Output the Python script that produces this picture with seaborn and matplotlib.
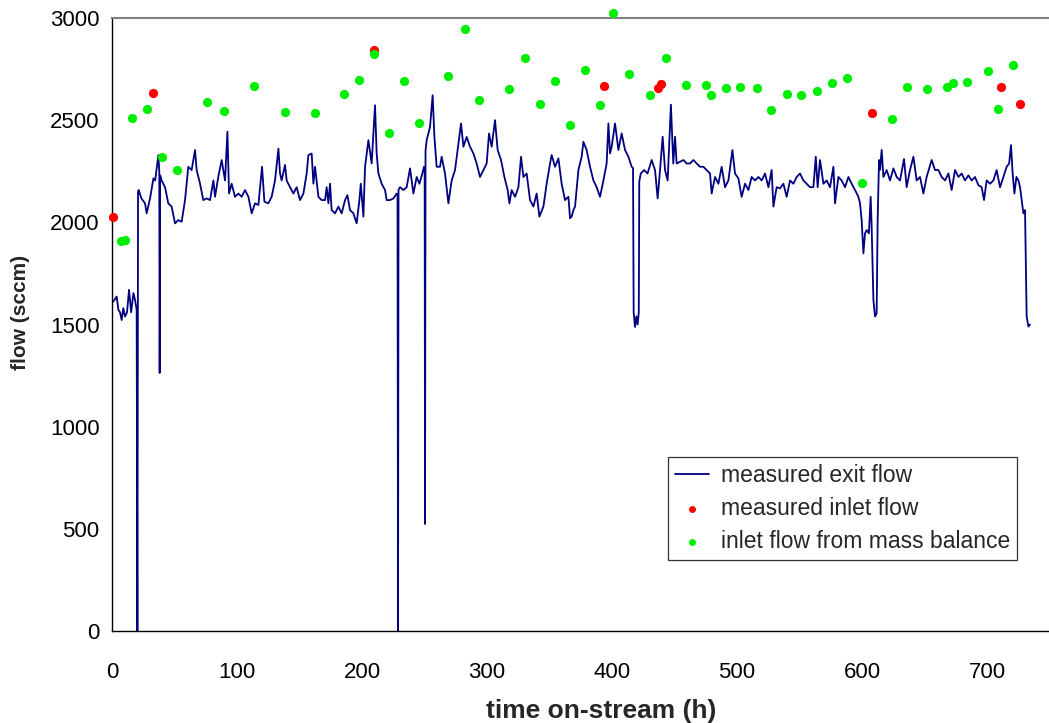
import numpy as np
import pandas as pd
import matplotlib
matplotlib.use("Agg")
import matplotlib.pyplot as plt
import seaborn as sns

# measured exit flow (sccm) vs time on-stream (h)
exit_time = [
    0.5, 1.9, 3.7, 5.1, 6.4, 7.7, 9.0, 10.4, 12.0, 13.6, 15.3, 17.1, 18.4, 19.7,
    20.3, 20.8, 21.3, 23.5, 26.4, 27.7, 30.4, 33.1, 34.5, 37.1, 37.8, 38.1, 38.5,
    39.7, 42.4, 45.0, 47.7, 50.4, 53.0, 55.7, 58.4, 61.0, 63.7, 66.4, 67.7, 70.4,
    73.0, 75.7, 78.4, 81.1, 82.4, 85.0, 87.7, 90.4, 92.3, 93.6, 95.7, 98.4, 101.1,
    103.7, 106.4, 109.1, 111.7, 114.4, 117.1, 120.0, 121.9,
    125.0, 127.7, 130.4, 133.1, 134.4, 135.7, 138.4, 139.7, 142.4, 145.1, 147.7,
    150.4, 153.1, 155.7, 157.1, 159.7, 161.1, 162.4, 165.1, 167.7, 170.4, 171.7,
    173.1, 174.4, 175.7, 178.4, 181.1, 183.7, 186.4, 188.3, 190.4, 193.1, 195.7,
    197.9, 199.0, 201.1, 202.4, 205.1, 207.7, 210.4, 211.7, 213.1, 215.7, 218.4,
    219.7, 222.4, 225.1, 227.7, 228.4, 228.8, 229.2, 230.4, 233.1, 235.7, 238.4,
    241.1, 243.7, 245.9, 247.5, 249.6, 250.1, 250.4, 250.8, 251.7, 254.4, 256.5,
    257.9, 259.7, 262.4, 263.7, 266.4, 269.1, 271.7, 274.4, 277.1, 279.2, 281.1,
    283.7, 286.4, 289.1, 291.7, 294.4, 297.1, 299.7, 301.6, 303.7, 306.4, 308.5,
    311.2, 313.9, 316.5, 317.9, 319.7, 322.4, 325.1, 327.2, 329.1, 331.7, 334.4,
    337.1, 339.7, 341.9, 345.1, 347.7, 350.4, 351.7, 354.4, 357.1, 359.7, 362.4,
    365.1, 366.4, 367.7, 369.1, 370.4, 373.1, 375.7, 377.1, 379.7, 382.4, 385.1,
    387.7, 390.4, 393.1, 395.7, 397.1, 398.4, 399.7, 402.4, 405.1, 407.7, 410.4,
    413.1, 415.7, 416.8, 417.3, 418.4, 419.5, 420.5, 421.4, 421.8, 423.0, 425.7,
    428.4, 431.7, 434.4, 436.5, 438.4, 440.5, 442.4, 444.5, 447.1, 449.0, 450.4,
    451.7, 454.4, 457.1, 459.7, 462.4, 465.1, 467.7, 470.4, 473.1, 475.7, 478.4,
    479.7, 482.4, 485.1, 487.7, 490.4, 493.1, 496.3, 498.4, 501.1, 503.7, 506.4,
    509.1, 511.7, 514.4, 517.1, 519.7, 522.4, 525.1, 527.7, 529.1, 531.7, 534.4,
    537.1, 539.7, 542.4, 545.1, 547.7, 550.4, 553.1, 555.7, 558.4, 561.1, 563.0,
    564.5, 566.4, 569.1, 571.7, 574.4, 577.1, 578.4, 581.1, 583.7, 586.4, 589.1,
    591.7, 594.4, 597.1, 598.4, 599.7, 601.1, 602.4, 603.7, 605.5, 606.9, 607.7,
    609.1, 610.4, 611.7, 612.5, 613.6, 614.4, 615.7, 617.1, 619.7, 622.4, 625.1,
    627.7, 630.4, 633.6, 635.7, 638.4, 641.1, 643.7, 646.4, 649.1, 651.7, 655.7,
    658.4, 661.1, 663.7, 666.4, 669.1, 671.7, 674.4, 677.1, 679.7, 682.4, 685.1,
    687.7, 690.4, 693.1, 695.7, 697.6, 699.7, 702.4, 705.1, 707.7, 710.4, 713.1,
    715.7, 717.7, 719.2, 720.5, 721.9, 723.5, 725.1, 726.4, 727.7, 729.1, 730.4,
    731.7, 733.1, 734.4,
]
exit_flow = [
    1610, 1620, 1637, 1572, 1560, 1522, 1580, 1539, 1560, 1670, 1560, 1654, 1620, 1572,
    0, 2150, 2158, 2117, 2093, 2044, 2117, 2215, 2205, 2329, 2250, 1263, 2230,
    2205, 2172, 2093, 2077, 1995, 2011, 2003, 2109, 2272, 2256, 2354, 2256, 2189,
    2109, 2117, 2109, 2205, 2125, 2222, 2305, 2205, 2444, 2141, 2189, 2125, 2141,
    2125, 2158, 2125, 2044, 2093, 2085, 2272, 2101,
    2093, 2125, 2205, 2361, 2239, 2205, 2281, 2205, 2172, 2141, 2172,
    2109, 2141, 2239, 2329, 2337, 2189, 2272, 2125, 2109, 2109, 2172,
    2093, 2189, 2060, 2044, 2077, 2044, 2109, 2133, 2060, 2044, 1995,
    2109, 2189, 2028, 2272, 2402, 2288, 2573, 2337, 2239, 2189, 2158,
    2109, 2109, 2117, 2141, 2130, 0, 2160, 2172, 2158, 2172, 2264,
    2141, 2222, 2189, 2222, 2272, 2250, 524, 2350, 2402, 2467, 2622,
    2418, 2272, 2272, 2321, 2239, 2093, 2205, 2256, 2386, 2484, 2370,
    2418, 2370, 2337, 2288, 2222, 2256, 2288, 2435, 2370, 2500, 2354,
    2305, 2222, 2158, 2093, 2158, 2125, 2172, 2321, 2222, 2239, 2109,
    2077, 2141, 2028, 2077, 2189, 2288, 2329, 2272, 2313, 2189, 2109,
    2125, 2020, 2028, 2060, 2077, 2256, 2321, 2394, 2354, 2272, 2205,
    2172, 2125, 2205, 2288, 2484, 2337, 2370, 2484, 2354, 2435, 2354,
    2321, 2272, 2265, 1560, 1488, 1540, 1500, 1560, 2200, 2239, 2256,
    2239, 2305, 2256, 2117, 2256, 2419, 2256, 2205, 2576, 2288, 2419,
    2288, 2296, 2305, 2288, 2288, 2305, 2288, 2272, 2272, 2256, 2239,
    2141, 2222, 2189, 2272, 2172, 2205, 2354, 2239, 2215, 2125, 2189,
    2158, 2222, 2205, 2222, 2205, 2239, 2172, 2256, 2077, 2172, 2166,
    2189, 2125, 2205, 2189, 2222, 2239, 2205, 2189, 2172, 2172, 2321,
    2172, 2305, 2189, 2205, 2172, 2272, 2093, 2222, 2205, 2172, 2222,
    2189, 2158, 2125, 2093, 2011, 1848, 1946, 1962, 1946, 2125, 1980,
    1620, 1539, 1555, 2011, 2305, 2256, 2354, 2222, 2256, 2205, 2264,
    2222, 2205, 2310, 2172, 2256, 2321, 2205, 2222, 2141, 2222, 2305,
    2256, 2256, 2222, 2205, 2239, 2158, 2256, 2222, 2239, 2205, 2230,
    2205, 2222, 2182, 2172, 2109, 2205, 2189, 2205, 2256, 2172, 2222,
    2272, 2288, 2378, 2239, 2141, 2222, 2205, 2172, 2109, 2044, 2060,
    1539, 1490, 1500,
]

# measured inlet flow (red dots)
inlet_time = [0.8, 32.8, 209.6, 393.6, 436.8, 439.2, 608.0, 711.0, 726.4]
inlet_flow = [2025, 2633, 2844, 2668, 2658, 2677, 2535, 2663, 2578]

# inlet flow from mass balance (green dots)
balance_time = [
    7.0, 10.4, 16.0, 28.3, 40.0, 52.3, 76.3, 89.6, 113.9, 138.4, 162.4, 185.3,
    197.3, 209.6, 221.9, 233.6, 245.9, 268.5, 282.1, 293.9, 317.9, 330.4, 342.4,
    354.4, 366.1, 378.7, 390.7, 401.0, 413.3, 430.7, 443.0, 459.5, 475.2, 479.2,
    491.2, 502.5, 515.7, 527.5, 539.7, 551.5, 563.7, 576.3, 588.0, 600.3, 623.7,
    636.3, 652.0, 668.0, 672.5, 684.0, 700.5, 708.8, 720.8,
]
balance_flow = [
    1911, 1915, 2509, 2557, 2318, 2258, 2588, 2544, 2669, 2539, 2537, 2628,
    2697, 2823, 2436, 2692, 2486, 2715, 2948, 2597, 2651, 2805, 2581,
    2690, 2478, 2746, 2576, 3023, 2728, 2624, 2805, 2671, 2671, 2624,
    2656, 2660, 2656, 2552, 2628, 2625, 2645, 2680, 2707, 2193, 2506,
    2664, 2654, 2664, 2680, 2685, 2743, 2557, 2770,
]

exit_df = pd.DataFrame({"time": exit_time, "flow": exit_flow})
inlet_df = pd.DataFrame({"time": inlet_time, "flow": inlet_flow})
balance_df = pd.DataFrame({"time": balance_time, "flow": balance_flow})

sns.set_style("white")
plt.rcParams["font.family"] = ["Liberation Sans", "DejaVu Sans"]

fig = plt.figure(figsize=(10.49, 7.23), dpi=100)
ax = fig.add_axes([0.1068, 0.1272, 0.8937, 0.8479])

sns.lineplot(data=exit_df, x="time", y="flow", ax=ax, color="#000080",
             linewidth=1.3, estimator=None, sort=False,
             label="measured exit flow", zorder=2)
sns.scatterplot(data=inlet_df, x="time", y="flow", ax=ax, color="#FF0000",
                s=44, linewidth=0, label="measured inlet flow", zorder=3,
                clip_on=False)
sns.scatterplot(data=balance_df, x="time", y="flow", ax=ax, color="#00EE00",
                s=44, linewidth=0, label="inlet flow from mass balance",
                zorder=3, clip_on=False)

ax.set_xlim(0, 750)
ax.set_ylim(0, 3000)
ax.set_xticks(range(0, 701, 100))
ax.set_yticks(range(0, 3001, 500))
ax.tick_params(axis="both", direction="inout", length=10, width=1,
               colors="black", labelsize=16)
ax.tick_params(axis="x", pad=17.5)
ax.tick_params(axis="y", pad=4)

ax.spines["right"].set_visible(False)
ax.spines["top"].set_color("#808080")
ax.spines["top"].set_linewidth(1.5)
ax.spines["left"].set_color("black")
ax.spines["bottom"].set_color("black")
ax.spines["left"].set_linewidth(1.0)
ax.spines["bottom"].set_linewidth(1.0)

ax.set_xlabel("time on-stream (h)", fontsize=19, fontweight="bold")
ax.xaxis.set_label_coords(0.5216, -0.111)
ax.set_ylabel("flow (sccm)", fontsize=15, fontweight="bold")
ax.yaxis.set_label_coords(-0.088, 0.519)

leg = ax.legend(loc="upper left", bbox_to_anchor=(0.593, 0.284),
                borderaxespad=0, fontsize=16.5, frameon=True, fancybox=False,
                framealpha=1, edgecolor="#333333", markerscale=0.75,
                handlelength=1.5, handletextpad=0.5, labelspacing=0.45,
                borderpad=0.3)
leg.get_frame().set_linewidth(0.9)

fig.savefig("out.png", dpi=100)
